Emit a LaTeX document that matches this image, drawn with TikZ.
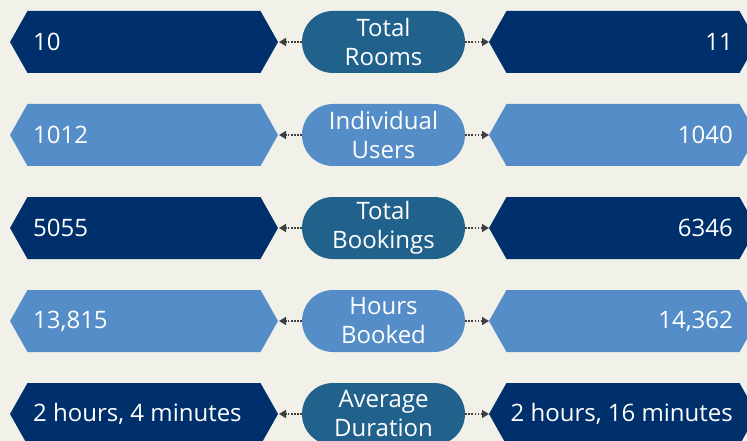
\documentclass[tikz,border=0pt]{standalone}
\usepackage{fontspec}
\setmainfont{Open Sans}
\usetikzlibrary{arrows.meta}
\definecolor{bgcream}{HTML}{F1F1EA}
\definecolor{navy}{HTML}{00306B}
\definecolor{skyblue}{HTML}{548DC7}
\definecolor{steel}{HTML}{21628D}
\definecolor{linkgray}{HTML}{3F3F3F}
\begin{document}
\begin{tikzpicture}
[x=1pt, y=-1pt,
 darkhex/.style={fill=navy},
 lighthex/.style={fill=skyblue},
 pill/.style={rounded corners=31pt, minimum width=163pt, minimum height=62pt, inner sep=0pt, text=white, align=center, font=\fontsize{24}{29}\selectfont},
 darkpill/.style={pill, fill=steel},
 lightpill/.style={pill, fill=skyblue},
 numtext/.style={text=white, inner sep=0pt, font=\fontsize{24}{29}\selectfont},
 link/.style={linkgray, line width=1.6pt, dash pattern=on 1.5pt off 1.6pt, -{Triangle[length=7pt,width=8pt]}}]
\fill[bgcream] (0,0) rectangle (747,441);
\useasboundingbox (0,0) rectangle (747,441);
\fill[darkhex] (10,42) -- (27.5,11) -- (260.5,11) -- (278,42) -- (260.5,73) -- (27.5,73) -- cycle;
\fill[darkhex] (489,42) -- (506.5,11) -- (739.5,11) -- (757,42) -- (739.5,73) -- (506.5,73) -- cycle;
\fill[lighthex] (10,135) -- (27.5,104) -- (260.5,104) -- (278,135) -- (260.5,166) -- (27.5,166) -- cycle;
\fill[lighthex] (489,135) -- (506.5,104) -- (739.5,104) -- (757,135) -- (739.5,166) -- (506.5,166) -- cycle;
\fill[darkhex] (10,228) -- (27.5,197) -- (260.5,197) -- (278,228) -- (260.5,259) -- (27.5,259) -- cycle;
\fill[darkhex] (489,228) -- (506.5,197) -- (739.5,197) -- (757,228) -- (739.5,259) -- (506.5,259) -- cycle;
\fill[lighthex] (10,321) -- (27.5,290) -- (260.5,290) -- (278,321) -- (260.5,352) -- (27.5,352) -- cycle;
\fill[lighthex] (489,321) -- (506.5,290) -- (739.5,290) -- (757,321) -- (739.5,352) -- (506.5,352) -- cycle;
\fill[darkhex] (10,414) -- (27.5,383) -- (260.5,383) -- (278,414) -- (260.5,445) -- (27.5,445) -- cycle;
\fill[darkhex] (489,414) -- (506.5,383) -- (739.5,383) -- (757,414) -- (739.5,445) -- (506.5,445) -- cycle;
\coordinate (l1) at (279,42);
\coordinate (r1) at (489,42);
\coordinate (l2) at (279,135);
\coordinate (r2) at (489,135);
\coordinate (l3) at (279,228);
\coordinate (r3) at (489,228);
\coordinate (l4) at (279,321);
\coordinate (r4) at (489,321);
\coordinate (l5) at (279,414);
\coordinate (r5) at (489,414);
\node (p1) [darkpill] at (383.5,42) {Total\\Rooms};
\node (p2) [lightpill] at (383.5,135) {Individual\\Users};
\node (p3) [darkpill] at (383.5,228) {Total\\Bookings};
\node (p4) [lightpill] at (383.5,321) {Hours\\Booked};
\node (p5) [darkpill] at (383.5,414) {Average\\Duration};
\node (a1) [numtext, anchor=west] at (33,42) {10};
\node (b1) [numtext, anchor=east] at (733,42) {11};
\node (a2) [numtext, anchor=west] at (33,135) {1012};
\node (b2) [numtext, anchor=east] at (733,135) {1040};
\node (a3) [numtext, anchor=west] at (33,228) {5055};
\node (b3) [numtext, anchor=east] at (733,228) {6346};
\node (a4) [numtext, anchor=west] at (33,321) {13,815};
\node (b4) [numtext, anchor=east] at (733,321) {14,362};
\node (a5) [numtext, anchor=west] at (33,414) {2 hours, 4 minutes};
\node (b5) [numtext, anchor=east] at (733,414) {2 hours, 16 minutes};
\draw[link] (p1.west) -- (l1);
\draw[link] (p1.east) -- (r1);
\draw[link] (p2.west) -- (l2);
\draw[link] (p2.east) -- (r2);
\draw[link] (p3.west) -- (l3);
\draw[link] (p3.east) -- (r3);
\draw[link] (p4.west) -- (l4);
\draw[link] (p4.east) -- (r4);
\draw[link] (p5.west) -- (l5);
\draw[link] (p5.east) -- (r5);
\end{tikzpicture}
\end{document}
